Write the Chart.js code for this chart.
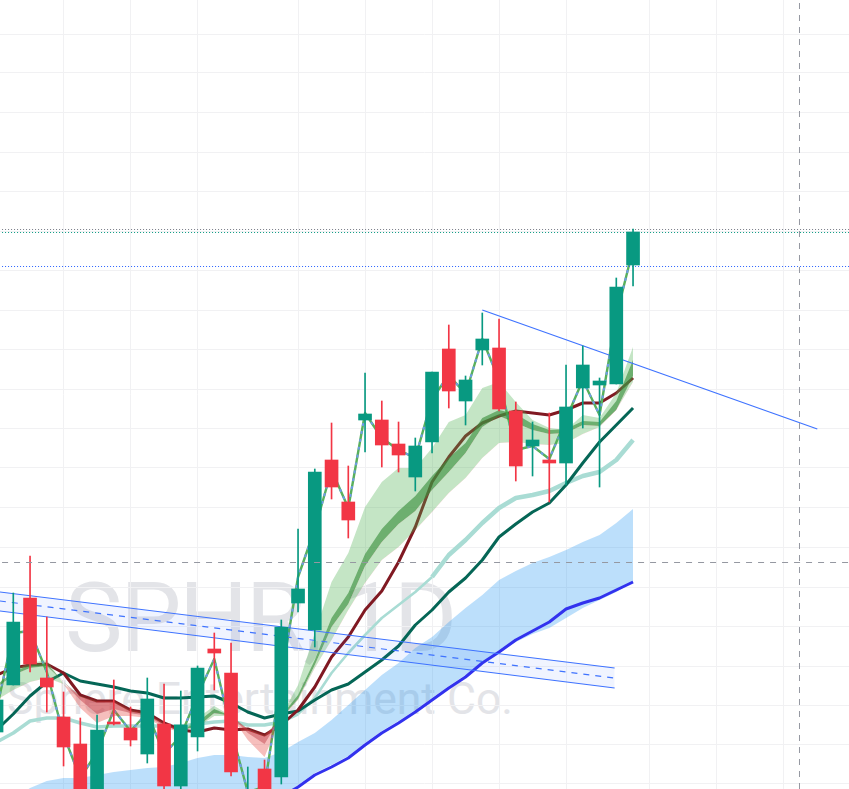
<!DOCTYPE html>
<html><head><meta charset="utf-8">
<script src="https://cdn.jsdelivr.net/npm/chart.js@4"></script>
<style>
html,body{margin:0;padding:0;background:#fff;overflow:hidden}
#wrap{position:relative;width:849px;height:789px;overflow:hidden}
#c{position:absolute;left:0;top:0;z-index:2}
.wm{position:absolute;left:0;width:520px;text-align:center;white-space:nowrap;color:#e3e4e8;font-family:Roboto,sans-serif;line-height:1;z-index:1}
#wm1{top:570px;font-size:97px;letter-spacing:-2.4px}
#wm2{top:677px;font-size:44.5px}
</style></head><body>
<div id="wrap">
<div class="wm" id="wm1">SPHR, 1D</div>
<div class="wm" id="wm2">Sphere Entertainment Co.</div>
<canvas id="c" width="849" height="789"></canvas>
</div>
<script>
const opens  =[6.8,11.5,20.2,12.2,8.3,5.6,0.0,7.8,7.2,4.6,7.6,1.4,6.3,15.1,12.7,-1.0,3.1,2.3,19.7,17.0,34.0,29.8,38.0,38.0,35.6,32.3,35.8,45.1,39.9,45.0,45.2,38.9,35.4,34.0,33.7,41.2,41.5,41.6,53.5];
const highs  =[11.0,20.7,24.4,18.3,10.8,8.2,8.5,12.0,9.3,12.2,11.6,10.9,13.4,16.7,15.7,3.3,4.0,18.0,27.1,33.1,37.7,33.4,42.7,39.9,37.8,36.2,42.8,47.5,42.4,48.7,48.1,39.8,37.8,38.7,43.5,45.4,42.2,52.2,57.1];
const lows   =[6.0,11.5,12.8,8.8,3.4,-1.5,-1.0,7.5,5.4,3.7,0.8,0.8,4.9,11.0,2.4,-1.5,-0.5,1.6,18.8,15.3,30.1,26.2,34.8,33.3,32.8,30.9,34.7,39.2,37.5,43.5,38.9,31.9,32.4,29.8,31.5,37.2,31.3,41.6,51.4];
const closes =[10.0,17.8,13.6,11.3,5.3,0.0,7.0,7.6,6.0,10.1,1.4,7.5,13.2,14.7,2.8,0.5,0.5,17.3,21.1,32.8,31.3,28.0,38.6,35.5,34.5,35.4,42.8,40.9,42.0,46.1,39.1,33.4,36.0,33.7,39.3,43.5,41.9,51.3,56.8];
const typical=[9.0,16.7,16.9,12.8,6.5,2.2,4.8,9.0,6.9,8.7,4.6,6.4,10.5,14.1,7.0,0.8,1.3,12.3,22.3,27.1,33.0,29.2,38.7,36.2,35.0,34.2,40.1,42.5,40.6,46.1,42.0,35.0,35.4,34.1,38.1,42.0,38.5,48.4,55.1];
const maroonMA=[12.5,13.2,13.5,13.6,12.7,10.5,9.9,9.9,9.0,8.7,7.7,7.0,6.8,7.2,7.0,7.1,6.5,7.5,9.0,11.3,14.3,16.3,19.0,20.9,23.8,27.3,31.8,34.3,36.4,37.7,38.4,38.9,38.7,38.5,39.0,39.7,39.7,40.7,42.2];
const darkMA =[7.0,8.6,10.4,11.8,12.7,11.9,11.6,11.3,10.9,10.7,10.2,10.2,10.3,10.4,9.7,8.8,8.2,8.6,8.9,10.0,11.0,11.6,12.8,14.0,15.4,17.5,19.0,20.8,22.2,24.0,26.3,27.6,28.8,29.7,31.5,33.7,35.8,37.5,39.2];
const tealMA =[5.8,6.7,7.9,8.2,8.2,7.7,7.3,7.4,7.4,7.4,7.4,7.4,7.6,7.8,7.9,7.5,7.5,7.8,8.6,10.2,12.7,14.7,16.5,18.2,19.5,20.8,22.3,24.5,26.0,27.7,29.2,30.2,30.5,30.9,31.7,32.4,32.8,34.0,36.0];
const cloudTop=[-1.5,0.0,1.2,1.9,2.2,2.2,2.5,2.8,3.0,3.2,3.3,3.7,4.2,4.5,4.5,4.3,4.2,4.8,5.8,6.7,8.0,9.5,11.0,12.5,13.7,15.2,16.3,17.8,19.2,20.5,22.0,22.9,23.7,24.3,25.0,25.8,26.5,27.7,29.1];
const cloudBottom=[-3,-3,-3,-3,-3,-3,-3,-3,-3,-3,-3,-3,-3,-3,-3,-3,-1.0,0.3,1.5,2.7,3.5,4.4,5.7,6.9,7.9,9.0,10.2,11.4,12.5,13.8,14.8,15.8,16.6,17.2,18.2,19.2,20.0,20.8,21.8];
const slowLine=[null,null,null,null,null,null,null,null,null,null,null,null,null,null,null,null,-1.2,0.3,1.3,2.5,3.3,4.2,5.5,6.7,7.7,8.8,10.0,11.2,12.3,13.7,14.8,16.0,16.9,17.8,19.1,19.7,20.2,21.0,21.8];
const wideA=[10.8,13.0,13.7,14.0,11.6,9.2,7.7,8.4,8.4,8.2,7.2,6.8,8.2,9.4,8.4,6.0,4.3,8.4,11.5,16.7,21.8,24.7,29.3,31.8,33.2,33.2,35.2,37.8,38.5,41.2,41.8,39.8,38.0,37.2,37.0,38.5,38.2,40.7,45.3];
const wideB=[10.0,11.0,11.8,12.2,11.6,10.4,9.9,9.9,9.0,8.7,7.7,7.0,7.3,8.4,8.4,7.1,6.5,8.2,10.0,13.2,16.0,19.0,21.7,24.0,25.3,27.0,28.8,30.7,32.2,34.2,35.7,35.8,35.6,35.5,35.7,36.6,37.3,39.0,41.8];
const innerA=[11.5,12.8,13.5,13.6,11.8,10.0,8.6,9.1,8.7,8.4,7.4,6.9,7.8,9.1,8.4,6.7,5.6,8.4,10.5,14.0,18.2,20.7,24.6,27.1,28.9,30.4,32.4,34.2,35.7,38.2,39.0,38.6,37.6,37.0,37.1,37.9,37.8,39.9,44.0];
const innerB=[11.2,12.5,13.2,13.4,11.8,10.4,9.8,9.8,8.9,8.6,7.6,7.0,7.3,8.7,8.4,7.1,6.4,8.2,10.1,13.5,17.3,19.6,23.4,25.8,27.6,28.9,31.0,32.8,34.7,37.3,38.4,37.7,37.0,36.6,36.7,37.5,37.4,39.0,42.4];
const channelX=[0.2,36.9];
const channelUpper=[20.8,13.2];
const channelMid=[19.9,12.2];
const channelLower=[18.9,11.2];
const trendX=[29,49];
const trendY=[49.0,37.1];
const levelX=[0.33,51];
const levelGrey=[57.05,57.05];
const levelGreen=[56.75,56.75];
const levelBlue=[53.35,53.35];
const crossY=23.75;
const crossX=47.937;
const gridX=[4,8,12,18,22,26,30,34,39,43,47];
const gridY=[76.6,72.7,68.8,64.8,60.9,56.9,53.0,49.0,45.1,41.1,37.2,33.3,29.3,25.3,21.3,17.4,13.4,9.5,5.6,1.7];

const UP='#089981',DOWN='#f23645';
const pts=a=>a.map((y,i)=>({x:i,y}));
const pair=(xs,ys)=>xs.map((x,i)=>({x,y:ys[i]}));
const line=(label,data,color,width,order,extra)=>Object.assign({type:'line',label,data,borderColor:color,borderWidth:width,pointRadius:0,tension:0,fill:false,order,spanGaps:false,borderJoinStyle:'round'},extra||{});
const datasets=[];
const add=d=>{datasets.push(d);return datasets.length-1;};

const cb=add(line('cloud bottom',pts(cloudBottom),'transparent',0,30));
add(line('cloud top',pts(cloudTop),'transparent',0,29,{fill:{target:cb,above:'rgba(33,150,243,.3)',below:'rgba(33,150,243,.3)'}}));
add(line('slow line',pts(slowLine),'#3232ee',3,28));
const tealWidth=c=>{const i=c.p0DataIndex;return i>=26?4.5:(i>=18?2.6:3.5);};
add(line('teal MA',pts(tealMA),'#a9dcd4',3.5,27,{segment:{borderWidth:tealWidth}}));
add(line('dark MA',pts(darkMA),'#056656',3,26));
add(line('maroon MA',pts(maroonMA),'#801922',3,25));
add(line('typical',pts(typical),'#58b05c',2.4,24));
add(line('typical dash',pts(typical),'#6f9be8',2,23,{borderDash:[3,5]}));
const wb=add(line('wide B',pts(wideB),'transparent',0,22));
add(line('wide A',pts(wideA),'transparent',0,21,{fill:{target:wb,above:'rgba(76,175,80,.33)',below:'rgba(229,57,53,.33)'}}));
const ib=add(line('inner B',pts(innerB),'transparent',0,20));
add(line('inner A',pts(innerA),'transparent',0,19,{fill:{target:ib,above:'rgba(56,142,60,.62)',below:'rgba(190,60,70,.45)'}}));
const cl=add(line('channel lower',pair(channelX,channelLower),'#3f73ff',1.2,18));
add(line('channel upper',pair(channelX,channelUpper),'#3f73ff',1.2,17,{fill:{target:cl,above:'rgba(41,98,255,.07)',below:'rgba(41,98,255,.07)'}}));
add(line('channel mid',pair(channelX,channelMid),'#3f73ff',1.2,16,{borderDash:[6,6]}));
add(line('trend',pair(trendX,trendY),'#3f73ff',1.2,15));
add(line('level grey',pair(levelX,levelGrey),'#787b86',1,14,{borderDash:[1,2]}));
add(line('level green',pair(levelX,levelGreen),'#089981',1,13,{borderDash:[1,2]}));
add(line('level blue',pair(levelX,levelBlue),'#2962ff',1,12,{borderDash:[1,2]}));
const candleColor=c=>closes[c.dataIndex]>=opens[c.dataIndex]?UP:DOWN;
add({type:'bar',label:'wicks',data:highs.map((h,i)=>({x:i,y:[lows[i],h]})),backgroundColor:candleColor,borderWidth:0,barThickness:1,grouped:false,order:5});
add({type:'bar',label:'bodies',data:opens.map((o,i)=>({x:i,y:[o,closes[i]]})),backgroundColor:candleColor,borderWidth:0,barThickness:13,grouped:false,order:4});
add(line('cross h',pair(levelX,[crossY,crossY]),'#9598a1',1,2,{borderDash:[6,6]}));
add(line('cross v',[{x:crossX,y:1.1},{x:crossX,y:80}],'#9598a1',1,1,{borderDash:[6,6]}));

new Chart(document.getElementById('c'),{
  type:'bar',
  data:{datasets},
  options:{
    responsive:false,animation:false,parsing:{xAxisKey:'x',yAxisKey:'y'},
    layout:{padding:0},
    plugins:{legend:{display:false},tooltip:{enabled:false},title:{display:false}},
    scales:{
      x:{type:'linear',min:0.206,max:50.893,offset:false,
        afterBuildTicks:s=>{s.ticks=gridX.map(value=>({value}));},
        ticks:{display:false},border:{display:false},
        grid:{color:'#f1f1f3',lineWidth:1,drawTicks:false,offset:false}},
      y:{type:'linear',min:1.1,max:80,
        afterBuildTicks:s=>{s.ticks=gridY.map(value=>({value}));},
        ticks:{display:false},border:{display:false},
        grid:{color:'#f1f1f3',lineWidth:1,drawTicks:false}}
    }
  }
});
</script>
</body></html>
